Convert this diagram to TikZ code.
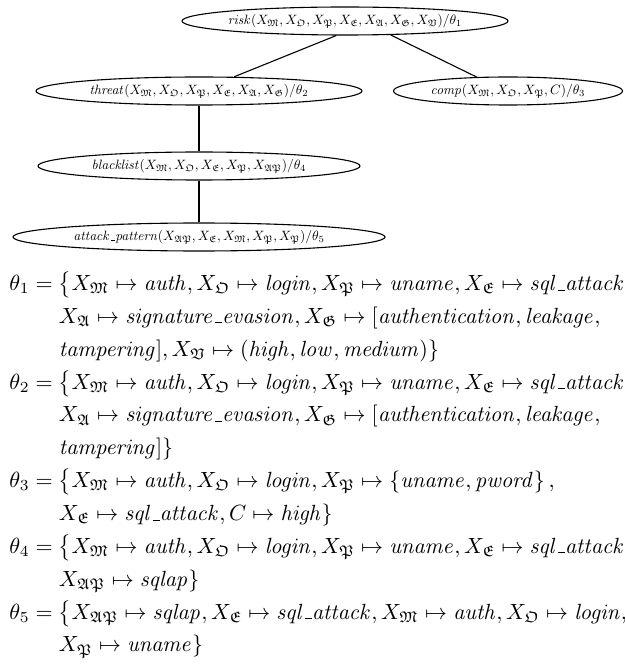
\documentclass[tikz,border=0pt]{standalone}
\usepackage{amsmath,amssymb}
\usepackage{graphicx}
\usetikzlibrary{shapes.geometric}
\newcommand{\fX}[1]{X_{\mathfrak{#1}}}
\newcommand{\us}{\mbox{\kern.06em\vbox{\hrule width.32em}}}
\newcommand{\ntext}[1]{\makebox[0pt]{\raisebox{-1.5pt}[0pt][0pt]{\scalebox{0.615}{$#1$}}}}
\def\s{0.455}
\tikzset{
  ell/.style={draw, ellipse, inner sep=0pt, line width=0.5pt},
  conn/.style={draw, line width=0.5pt},
}
\begin{document}
\begin{tikzpicture}[x=\s pt,y=-\s pt]
\useasboundingbox (0,0) rectangle (624,670);
\node[ell, minimum width=326*\s pt, minimum height=28*\s pt] (risk) at (345,21)
  {\ntext{\mathit{risk}(\fX{M},\fX{O},\fX{P},\fX{E},\fX{A},\fX{G},\fX{V})/\theta_1}};
\node[ell, minimum width=326*\s pt, minimum height=28*\s pt] (threat) at (199,91)
  {\ntext{\mathit{threat}(\fX{M},\fX{O},\fX{P},\fX{E},\fX{A},\fX{G})/\theta_2}};
\node[ell, minimum width=229*\s pt, minimum height=28*\s pt] (comp) at (508,91)
  {\ntext{\mathit{comp}(\fX{M},\fX{O},\fX{P},C)/\theta_3}};
\node[ell, minimum width=322*\s pt, minimum height=28*\s pt] (black) at (199,166)
  {\ntext{\mathit{blacklist}(\fX{M},\fX{O},\fX{E},\fX{P},\fX{AP})/\theta_4}};
\node[ell, minimum width=372*\s pt, minimum height=28*\s pt] (attack) at (199,237)
  {\ntext{\mathit{attack\us pattern}(\fX{AP},\fX{E},\fX{M},\fX{P},\fX{P})/\theta_5}};
\draw[conn] (risk.-121) -- (threat.22.5);
\draw[conn] (risk.-17.8) -- (comp.156.5);
\draw[conn] (threat.south) -- (black.north);
\draw[conn] (black.south) -- (attack.north);
\node[anchor=north west, inner sep=0pt] (eqs) at (9,267) {$
\renewcommand{\arraystretch}{1.246}
\begin{array}{@{}l@{}l@{}}
\theta_1 ={} & \bigl\{\fX{M} \mapsto \mathit{auth}, \fX{O} \mapsto \mathit{login}, \fX{P} \mapsto \mathit{uname}, \fX{E} \mapsto \mathit{sql\us attack}\\
 & \fX{A} \mapsto \mathit{signature\us evasion}, \fX{G} \mapsto [\mathit{authentication}, \mathit{leakage},\\
 & \mathit{tampering}], \fX{V} \mapsto (\mathit{high}, \mathit{low}, \mathit{medium})\}\\
\theta_2 ={} & \bigl\{\fX{M} \mapsto \mathit{auth}, \fX{O} \mapsto \mathit{login}, \fX{P} \mapsto \mathit{uname}, \fX{E} \mapsto \mathit{sql\us attack}\\
 & \fX{A} \mapsto \mathit{signature\us evasion}, \fX{G} \mapsto [\mathit{authentication}, \mathit{leakage},\\
 & \mathit{tampering}]\}\\
\theta_3 ={} & \bigl\{\fX{M} \mapsto \mathit{auth}, \fX{O} \mapsto \mathit{login}, \fX{P} \mapsto \left\{\mathit{uname}, \mathit{pword}\right\},\\
 & \fX{E} \mapsto \mathit{sql\us attack}, C \mapsto \mathit{high}\}\\
\theta_4 ={} & \bigl\{\fX{M} \mapsto \mathit{auth}, \fX{O} \mapsto \mathit{login}, \fX{P} \mapsto \mathit{uname}, \fX{E} \mapsto \mathit{sql\us attack}\\
 & \fX{AP} \mapsto \mathit{sqlap}\}\\
\theta_5 ={} & \bigl\{\fX{AP} \mapsto \mathit{sqlap}, \fX{E} \mapsto \mathit{sql\us attack}, \fX{M} \mapsto \mathit{auth}, \fX{O} \mapsto \mathit{login},\\
 & \fX{P} \mapsto \mathit{uname}\}
\end{array}$};
\end{tikzpicture}
\end{document}
